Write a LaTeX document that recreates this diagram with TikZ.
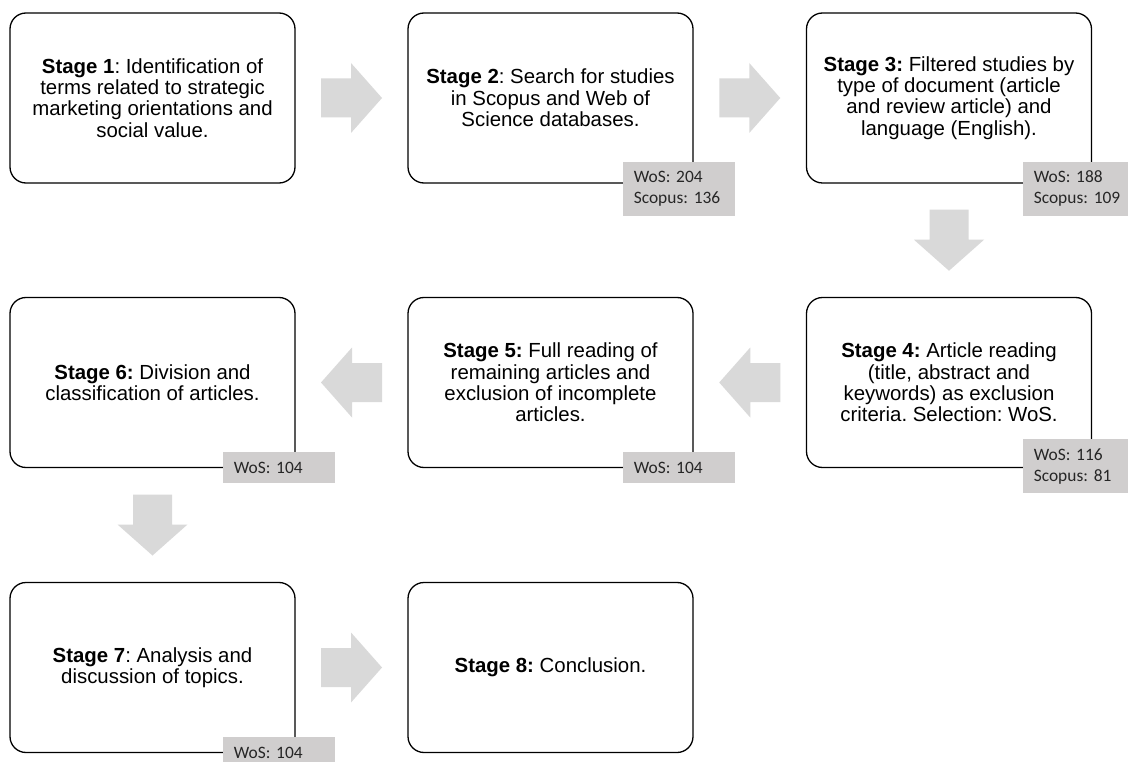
\documentclass[tikz,border=0pt]{standalone}
\usepackage{fontspec}
\setmainfont{Liberation Sans}
\newfontfamily\tagfont{Carlito}
\usetikzlibrary{calc}
\definecolor{arrowgray}{HTML}{D9D9D9}
\definecolor{taggray}{HTML}{D0CECE}
\frenchspacing
\begin{document}
\begin{tikzpicture}[x=1pt,y=-1pt,
  stagebox/.style={draw, line width=1.3pt, rounded corners=16pt, minimum width=285pt, minimum height=170pt, align=center, inner sep=0pt, font=\fontsize{20.4}{21.4}\selectfont},
  tagbox/.style={fill=taggray, anchor=north west, text width=90pt, inner xsep=11pt, inner ysep=0pt, align=left, text=black!85, font=\tagfont\fontsize{17.4}{21}\selectfont},
  blockarrow/.pic={\fill[arrowgray] (-30.5,-19.5) -- (-0.5,-19.5) -- (-0.5,-35) -- (30.5,0) -- (-0.5,35) -- (-0.5,19.5) -- (-30.5,19.5) -- cycle;}
]
\clip (0,0) rectangle (1128,762);
\fill[white] (0,0) rectangle (1128,762);
% row 1
\node[stagebox] (s1) at (152.5,98) {\textbf{Stage 1}: Identification of\\terms related to strategic\\marketing orientations and\\social value.};
\node[stagebox] (s2) at (550.5,98) {\textbf{Stage 2}: Search for studies\\in Scopus and Web of\\Science databases.};
\node[stagebox] (s3) at (949,98) {\textbf{Stage 3:} Filtered studies by\\type of document (article\\and review article) and\\language (English).};
% row 2
\node[stagebox] (s4) at (949,382.5) {\textbf{Stage 4:} Article reading\\(title, abstract and\\keywords) as exclusion\\criteria. Selection: WoS.};
\node[stagebox] (s5) at (550.5,382.5) {\textbf{Stage 5:} Full reading of\\remaining articles and\\exclusion of incomplete\\articles.};
\node[stagebox] (s6) at (152.5,382.5) {\textbf{Stage 6:} Division and\\classification of articles.};
% row 3
\node[stagebox] (s7) at (152.5,667.5) {\textbf{Stage 7}: Analysis and\\discussion of topics.};
\node[stagebox] (s8) at (550.5,667.5) {\textbf{Stage 8:} Conclusion.};
% tags
\node[tagbox, minimum height=54pt] (t2) at ($(s2.south east)+(-71,-22)$) {WoS: 204\\Scopus: 136};
\node[tagbox, minimum height=54pt] (t3) at ($(s3.south east)+(-69.5,-22)$) {WoS: 188\\Scopus: 109};
\node[tagbox, minimum height=54pt] (t4) at ($(s4.south east)+(-69.5,-29)$) {WoS: 116\\Scopus: 81};
\node[tagbox, minimum height=31pt] (t5) at ($(s5.south east)+(-71,-16)$) {WoS: 104};
\node[tagbox, minimum height=31pt] (t6) at ($(s6.south east)+(-73,-16)$) {WoS: 104};
\node[tagbox, minimum height=31pt] (t7) at ($(s7.south east)+(-73,-16)$) {WoS: 104};
% block arrows
\pic at ($(s1.east)!0.5!(s2.west)$) {blockarrow};
\pic at ($(s2.east)!0.5!(s3.west)$) {blockarrow};
\pic[rotate=-90] at ($(s3.south)!0.5!(s4.north)$) {blockarrow};
\pic[rotate=180] at ($(s4.west)!0.5!(s5.east)$) {blockarrow};
\pic[rotate=180] at ($(s5.west)!0.5!(s6.east)$) {blockarrow};
\pic[rotate=-90] at ($(s6.south)!0.5!(s7.north)$) {blockarrow};
\pic at ($(s7.east)!0.5!(s8.west)$) {blockarrow};
\end{tikzpicture}
\end{document}
